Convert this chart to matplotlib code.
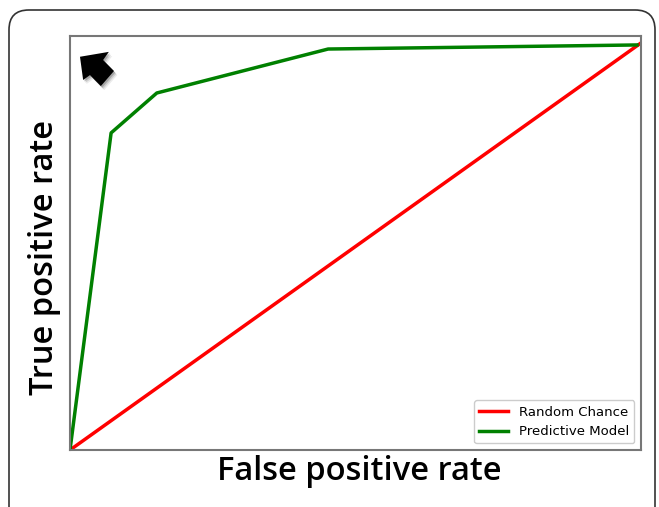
import matplotlib
matplotlib.use('Agg')
import matplotlib.pyplot as plt
from matplotlib.patches import FancyBboxPatch, Polygon

# ROC curve data
random_fpr = [0.0, 1.0]
random_tpr = [0.0, 1.0]
model_fpr = [0.0, 0.072, 0.152, 0.452, 0.993]
model_tpr = [0.0, 0.779, 0.877, 0.985, 0.995]

fig = plt.figure(figsize=(6.59, 5.07), dpi=100)

# rounded frame around the figure
frame = FancyBboxPatch((9 / 659, -0.1), 646 / 659, 0.1 + 497 / 507,
                       boxstyle='round,pad=0,rounding_size=0.03',
                       transform=fig.transFigure, fill=False,
                       edgecolor='#333333', linewidth=1.2, mutation_aspect=659 / 507)
fig.patches.append(frame)

ax = fig.add_axes([70 / 659, 57 / 507, 571 / 659, 414 / 507])
ax.plot(random_fpr, random_tpr, color='red', linewidth=2.5, label='Random Chance')
ax.plot(model_fpr, model_tpr, color='green', linewidth=2.5, label='Predictive Model')
ax.set_xlim(0, 1)
ax.set_ylim(0, 1.017)
ax.set_xticks([])
ax.set_yticks([])
for s in ax.spines.values():
    s.set_color('#777777')
    s.set_linewidth(1.5)

ax.set_xlabel('False positive rate', fontsize=23.5, family='Open Sans', weight='semibold')
ax.set_ylabel('True positive rate', fontsize=23.5, family='Open Sans', weight='semibold')
ax.xaxis.set_label_coords(0.506, -0.012)
ax.xaxis.label.set_va('top')
ax.yaxis.set_label_coords(-0.016, 0.466)

ax.legend(loc='lower right', fontsize=9.5, handlelength=2.2, framealpha=1, edgecolor='#cccccc')

# arrow pointing to the top-left corner, with a soft shadow
arrow = [(0.0175, 0.966), (0.068, 0.978), (0.058, 0.958), (0.077, 0.931),
         (0.054, 0.894), (0.035, 0.921), (0.023, 0.909)]
for d, a in [(0.010, 0.08), (0.007, 0.12), (0.004, 0.2)]:
    sh = [(x + d * 0.6, y - d) for x, y in arrow]
    ax.add_patch(Polygon(sh, closed=True, facecolor='black', edgecolor='none', alpha=a))
ax.add_patch(Polygon(arrow, closed=True, facecolor='black', edgecolor='none'))

fig.savefig('out.png', dpi=100)
